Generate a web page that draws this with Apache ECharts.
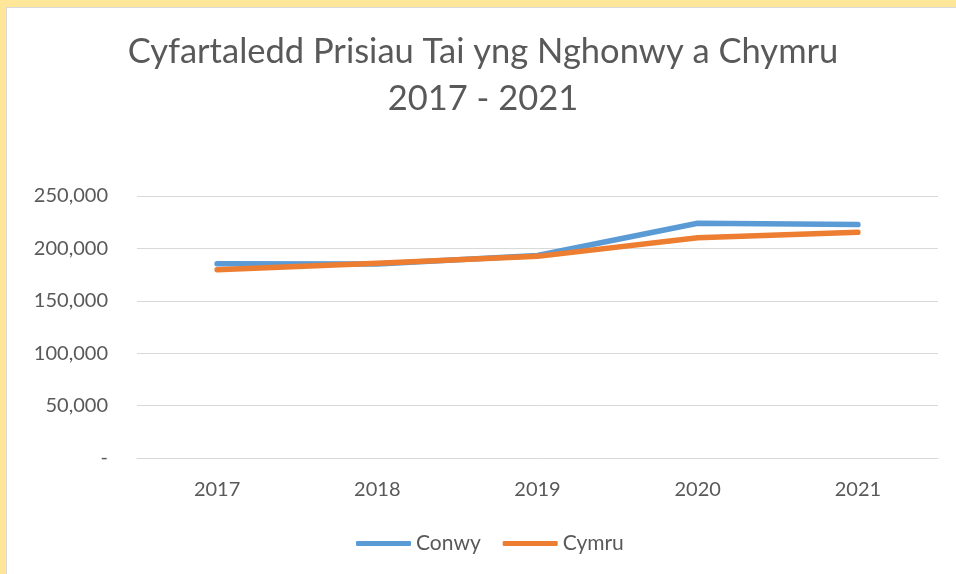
<!DOCTYPE html>
<html>
<head>
<meta charset="utf-8">
<script src="https://cdn.jsdelivr.net/npm/echarts@6/dist/echarts.min.js"></script>
<style>
  html, body { margin: 0; padding: 0; background: #ffe699; overflow: hidden; }
  #frame {
    position: absolute; left: 6px; top: 7px; right: 0; bottom: 0;
    background: #fff; border-left: 1px solid #d9d9d9; border-top: 1px solid #d9d9d9;
  }
  #container { position: absolute; left: -7px; top: -8px; width: 956px; height: 574px; }
</style>
</head>
<body>
<div id="frame"><div id="container"></div></div>
<script>
const years = ["2017", "2018", "2019", "2020", "2021"];
const conwy = [185400, 185200, 193200, 224000, 222700];
const cymru = [179700, 185900, 192400, 210100, 215400];
const seriesNames = ["Conwy", "Cymru"];
const titleText = "Cyfartaledd Prisiau Tai yng Nghonwy a Chymru\n2017 - 2021";

const dom = document.getElementById("container");
const myChart = echarts.init(dom, null, { renderer: "canvas" });

const font = "Lato, 'Open Sans', sans-serif";

const option = {
  animation: false,
  title: {
    text: titleText,
    left: 478,
    textAlign: "center",
    top: 23,
    textStyle: {
      fontFamily: font,
      fontSize: 34.5,
      fontWeight: "normal",
      color: "#595959",
      lineHeight: 47,
    },
  },
  legend: {
    data: seriesNames,
    bottom: 15,
    left: 351,
    icon: "roundRect",
    itemWidth: 55,
    itemHeight: 5,
    itemGap: 22,
    textStyle: { fontFamily: font, fontSize: 21, color: "#595959" },
  },
  grid: { left: 137, right: 18, top: 196, bottom: 116, containLabel: false },
  xAxis: {
    type: "category",
    data: years,
    boundaryGap: true,
    axisLine: { lineStyle: { color: "#d9d9d9", width: 1 } },
    axisTick: { show: false },
    axisLabel: { fontFamily: font, fontSize: 20, color: "#595959", margin: 22 },
  },
  yAxis: {
    type: "value",
    min: 0,
    max: 250000,
    interval: 50000,
    axisLine: { show: false },
    axisTick: { show: false },
    splitLine: { lineStyle: { color: "#d9d9d9", width: 1 } },
    axisLabel: {
      fontFamily: font,
      fontSize: 20,
      color: "#595959",
      margin: 29,
      formatter: (v) => (v === 0 ? "-" : v.toLocaleString("en-US")),
    },
  },
  series: [
    {
      name: seriesNames[0],
      type: "line",
      data: conwy,
      showSymbol: false,
      lineStyle: { color: "#5b9bd5", width: 5.5, cap: "round", join: "round" },
      itemStyle: { color: "#5b9bd5" },
    },
    {
      name: seriesNames[1],
      type: "line",
      data: cymru,
      showSymbol: false,
      lineStyle: { color: "#ed7d31", width: 5.5, cap: "round", join: "round" },
      itemStyle: { color: "#ed7d31" },
    },
  ],
};

myChart.setOption(option);
</script>
</body>
</html>
